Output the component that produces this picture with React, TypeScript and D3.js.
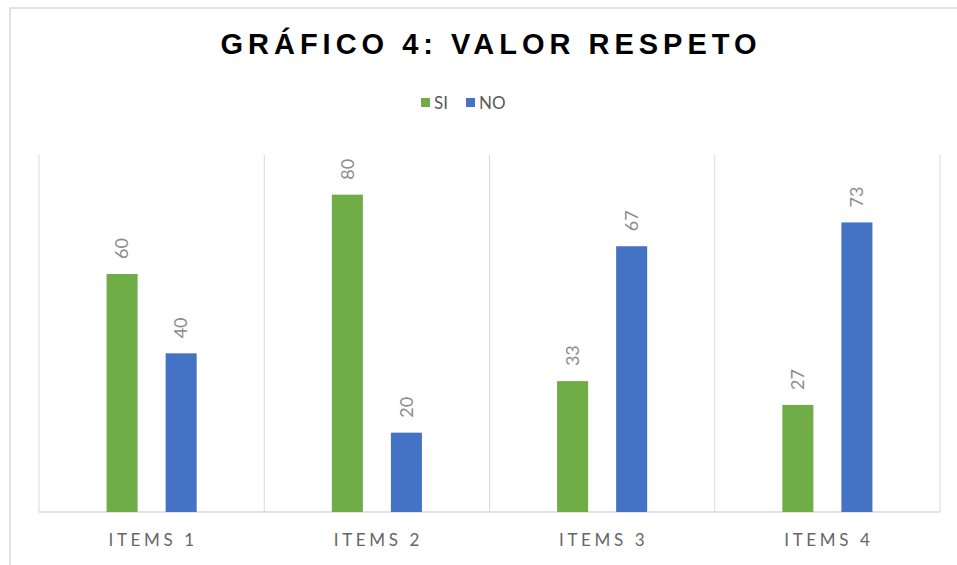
import React, { useEffect, useRef } from "react";
import * as d3 from "d3";

const categories = ["ITEMS 1", "ITEMS 2", "ITEMS 3", "ITEMS 4"];
const seriesNames = ["SI", "NO"];
const siValues = [60, 80, 33, 27];
const noValues = [40, 20, 67, 73];
const colors = ["#70AD47", "#4472C4"];

const App = () => {
  const svgRef = useRef<SVGSVGElement>(null);

  useEffect(() => {
    const W = 957;
    const H = 565;
    const margin = { top: 155, right: 17, bottom: 53, left: 39 };
    const width = W - margin.left - margin.right;
    const height = H - margin.top - margin.bottom;

    const svg = d3.select(svgRef.current);
    svg.selectAll("*").remove();
    svg.attr("width", W).attr("height", H);

    // chart border
    svg
      .append("rect")
      .attr("x", 10)
      .attr("y", 8)
      .attr("width", 1000)
      .attr("height", 1000)
      .attr("fill", "white")
      .attr("stroke", "#d9d9d9")
      .attr("stroke-width", 1.5);

    // title
    svg
      .append("text")
      .attr("x", 491)
      .attr("y", 54)
      .attr("text-anchor", "middle")
      .style("font-family", "'Liberation Sans', Arial, sans-serif")
      .style("font-weight", "bold")
      .style("font-size", "29px")
      .style("letter-spacing", "5px")
      .attr("fill", "#000")
      .text("GRÁFICO 4: VALOR RESPETO");

    // legend
    const legend = svg.append("g").attr("transform", "translate(421,103)");
    const legendX = [0, 45];
    seriesNames.forEach((name, i) => {
      const g = legend.append("g").attr("transform", `translate(${legendX[i]},0)`);
      g.append("rect")
        .attr("x", 0)
        .attr("y", -5)
        .attr("width", 9)
        .attr("height", 9)
        .attr("fill", colors[i]);
      g.append("text")
        .attr("x", 13)
        .attr("y", 6)
        .style("font-family", "Lato, sans-serif")
        .style("font-size", "17px")
        .attr("fill", "#595959")
        .text(name);
    });

    const plot = svg
      .append("g")
      .attr("transform", `translate(${margin.left},${margin.top})`);

    const x = d3.scaleBand().domain(categories).range([0, width]).padding(0);
    const xInner = d3
      .scaleBand()
      .domain(seriesNames)
      .range([0, x.bandwidth()])
      .paddingInner(0.4746)
      .paddingOuter(1.144);

    const y = d3.scaleLinear().domain([0, 90]).range([height, 0]);

    // vertical gridlines at category boundaries
    const bounds = categories.map((c) => x(c) as number).concat([width]);
    plot
      .selectAll(".grid")
      .data(bounds)
      .enter()
      .append("line")
      .attr("x1", (d) => d)
      .attr("x2", (d) => d)
      .attr("y1", 0)
      .attr("y2", height)
      .attr("stroke", "#d9d9d9")
      .attr("stroke-width", 1);

    // baseline
    plot
      .append("line")
      .attr("x1", 0)
      .attr("x2", width)
      .attr("y1", height)
      .attr("y2", height)
      .attr("stroke", "#d9d9d9")
      .attr("stroke-width", 1.5);

    const rows = categories.flatMap((c, i) => [
      { cat: c, series: "SI", value: siValues[i], color: colors[0] },
      { cat: c, series: "NO", value: noValues[i], color: colors[1] },
    ]);

    plot
      .selectAll(".bar")
      .data(rows)
      .enter()
      .append("rect")
      .attr("x", (d) => (x(d.cat) as number) + (xInner(d.series) as number))
      .attr("y", (d) => y(d.value))
      .attr("width", xInner.bandwidth())
      .attr("height", (d) => height - y(d.value))
      .attr("fill", (d) => d.color);

    // rotated value labels
    plot
      .selectAll(".label")
      .data(rows)
      .enter()
      .append("text")
      .attr("transform", (d) => {
        const cx = (x(d.cat) as number) + (xInner(d.series) as number) + xInner.bandwidth() / 2;
        return `translate(${cx},${y(d.value) - 15}) rotate(-90)`;
      })
      .attr("dy", "0.35em")
      .style("font-family", "Lato, sans-serif")
      .style("font-size", "18px")
      .attr("fill", "#8c8c8c")
      .text((d) => d.value);

    // category labels
    plot
      .selectAll(".cat")
      .data(categories)
      .enter()
      .append("text")
      .attr("x", (d) => (x(d) as number) + x.bandwidth() / 2 + 1.5)
      .attr("y", height + 34)
      .attr("text-anchor", "middle")
      .style("font-family", "Lato, sans-serif")
      .style("font-size", "17px")
      .style("letter-spacing", "3.6px")
      .attr("fill", "#666666")
      .text((d) => d);
  }, []);

  return (
    <div style={{ position: "absolute", left: 0, top: 0 }}>
      <svg ref={svgRef} style={{ display: "block" }}></svg>
    </div>
  );
};

export default App;
